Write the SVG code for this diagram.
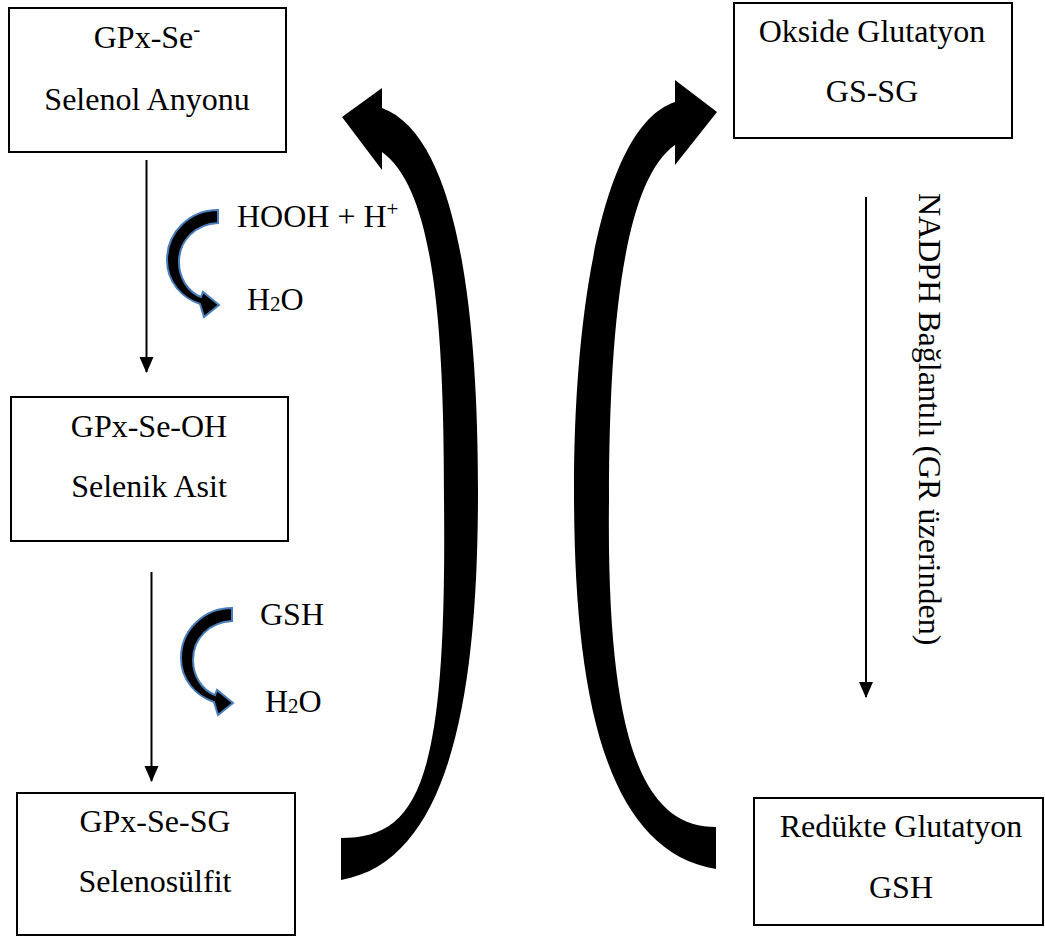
<svg xmlns="http://www.w3.org/2000/svg" width="1045" height="938" viewBox="0 0 1045 938">
<defs>
<style>
.box{fill:#ffffff;stroke:#000000;stroke-width:2}
.t{font-family:"Liberation Serif","Times New Roman",serif;font-size:32px;fill:#000000}
.c{text-anchor:middle}
.ln{stroke:#000000;stroke-width:2;fill:none}
.small{fill:#000000;stroke:#4a7ebb;stroke-width:2;stroke-linejoin:miter}
.big{fill:#000000;stroke:none}
</style>
<marker id="ah" viewBox="0 0 16 16" refX="15" refY="8" markerWidth="16" markerHeight="16" markerUnits="userSpaceOnUse" orient="auto">
<path d="M0,1 L16,8 L0,15 Z" fill="#000000"/>
</marker>
<path id="smallArrow" d="M218,210 C190,210 167,232 167,260 C167,282 182,298 200,304 L204,317 L219,305 L203,292 L201,297 C188,292 179,278 179,262 C179,240 196,224 218,223 Z"/>
</defs>
<rect width="1045" height="938" fill="#ffffff"/>

<g id="connectors">
<line class="ln" x1="146.5" y1="160" x2="146.5" y2="372" marker-end="url(#ah)"/>
<line class="ln" x1="151.5" y1="572" x2="151.5" y2="781" marker-end="url(#ah)"/>
<line class="ln" x1="866" y1="197" x2="866" y2="697" marker-end="url(#ah)"/>
<use href="#smallArrow" class="small"/>
<use href="#smallArrow" class="small" transform="translate(14,398)"/>
<path class="big" d="M341,838 C420,838 447,780 444,500 C444,330 435,190 382,152 L382,170 L342,117 L382,88 L382,108 C455,135 478,300 478,490 C478,680 455,860 341,880 Z"/>
<path class="big" d="M716,827 C650,827 606,760 609,500 C609,320 625,180 675,145 L675,165 L717,112 L675,80 L675,102 C605,125 574,300 574,490 C574,680 600,850 716,869 Z"/>
</g>

<g id="labels">
<text class="t" x="237" y="227">HOOH + H<tspan dy="-11" font-size="21">+</tspan></text>
<text class="t" x="247" y="310">H<tspan font-size="21" dy="1">2</tspan><tspan dy="-1">O</tspan></text>
<text class="t" x="260" y="625">GSH</text>
<text class="t" x="265" y="712">H<tspan font-size="21" dy="1">2</tspan><tspan dy="-1">O</tspan></text>
<text class="t" transform="translate(919,193) rotate(90)">NADPH Bağlantılı (GR üzerinden)</text>
</g>

<g id="node-selenol">
<rect class="box" x="9" y="8" width="277" height="144"/>
<text class="t c" x="147" y="48">GPx-Se<tspan dy="-12" font-size="21">-</tspan></text>
<text class="t c" x="147" y="110">Selenol Anyonu</text>
</g>

<g id="node-selenik">
<rect class="box" x="11" y="397" width="277" height="144"/>
<text class="t c" x="149" y="437">GPx-Se-OH</text>
<text class="t c" x="149" y="497">Selenik Asit</text>
</g>

<g id="node-selenosulfit">
<rect class="box" x="17" y="793" width="278" height="142"/>
<text class="t c" x="155" y="832">GPx-Se-SG</text>
<text class="t c" x="155" y="892">Selenosülfit</text>
</g>

<g id="node-okside">
<rect class="box" x="734" y="3" width="278" height="135"/>
<text class="t c" x="872" y="42">Okside Glutatyon</text>
<text class="t c" x="872" y="102">GS-SG</text>
</g>

<g id="node-redukte">
<rect class="box" x="754" y="798" width="289" height="127"/>
<text class="t c" x="901" y="837">Redükte Glutatyon</text>
<text class="t c" x="901" y="898">GSH</text>
</g>
</svg>
